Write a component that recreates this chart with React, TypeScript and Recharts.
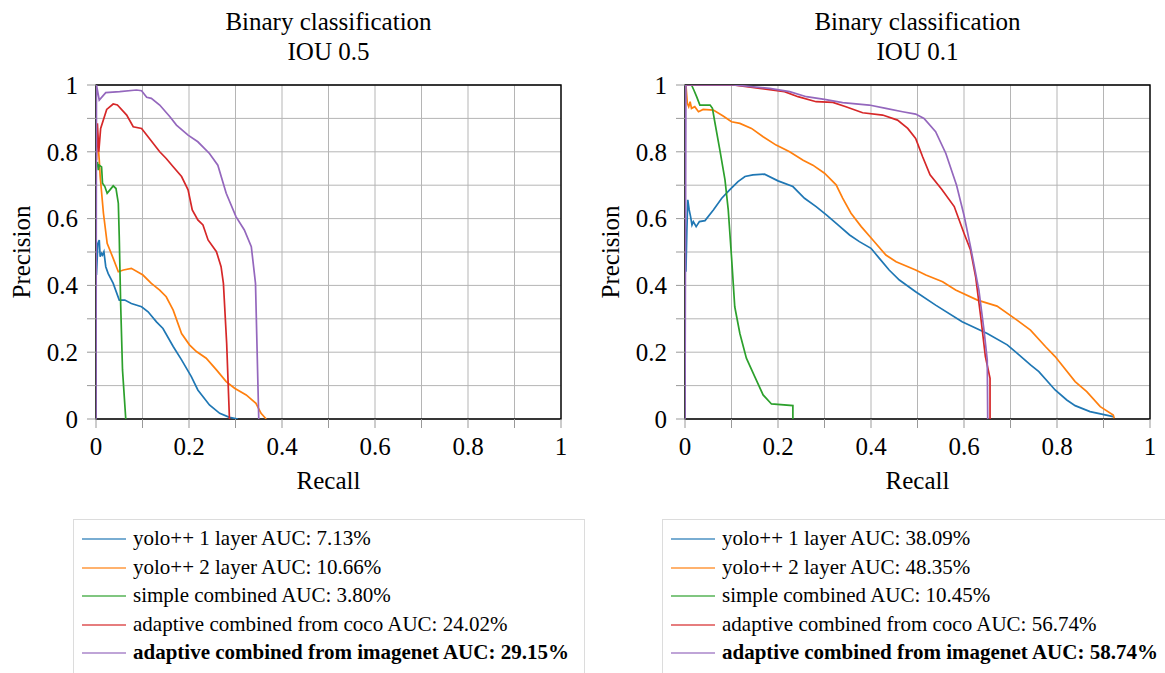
import React from "react";
import { LineChart, Line, XAxis, YAxis, CartesianGrid, ReferenceArea } from "recharts";

// tab10 colours, one per model
const COLORS = ["#1f77b4", "#ff7f0e", "#2ca02c", "#d62728", "#9467bd"];
const AXIS_TICKS = [0, 0.1, 0.2, 0.3, 0.4, 0.5, 0.6, 0.7, 0.8, 0.9, 1];
const FONT = "'Liberation Serif', serif";

// ---- IOU 0.5 : [recall, precision] ----
const yolo1Iou05 = [
  [0.001, 0.431], [0.004, 0.526], [0.007, 0.536], [0.009, 0.486], [0.012, 0.496], [0.014, 0.491],
  [0.017, 0.501], [0.021, 0.456], [0.026, 0.436], [0.037, 0.406], [0.05, 0.356], [0.062, 0.356],
  [0.076, 0.346], [0.098, 0.336], [0.112, 0.321], [0.13, 0.291], [0.144, 0.271], [0.166, 0.217],
  [0.184, 0.177], [0.205, 0.127], [0.219, 0.087], [0.244, 0.042], [0.266, 0.017], [0.287, 0.005],
  [0.305, 0],
];
const yolo2Iou05 = [
  [0.001, 0.885], [0.007, 0.775], [0.009, 0.726], [0.016, 0.616], [0.024, 0.526], [0.037, 0.481],
  [0.048, 0.441], [0.059, 0.446], [0.076, 0.451], [0.101, 0.431], [0.119, 0.406], [0.137, 0.386],
  [0.151, 0.366], [0.166, 0.326], [0.184, 0.256], [0.201, 0.222], [0.216, 0.202], [0.237, 0.182],
  [0.259, 0.147], [0.28, 0.112], [0.298, 0.092], [0.323, 0.072], [0.344, 0.047], [0.355, 0.017],
  [0.366, 0],
];
const simpleIou05 = [
  [0.003, 0.77], [0.005, 0.745], [0.007, 0.76], [0.012, 0.755], [0.014, 0.706], [0.019, 0.696],
  [0.024, 0.676], [0.03, 0.686], [0.037, 0.698], [0.043, 0.69], [0.048, 0.646], [0.05, 0.546],
  [0.053, 0.346], [0.057, 0.147], [0.064, 0],
];
const cocoIou05 = [
  [0.001, 0.775], [0.003, 0.885], [0.006, 0.8], [0.01, 0.87], [0.023, 0.927], [0.037, 0.943],
  [0.046, 0.94], [0.066, 0.91], [0.08, 0.875], [0.098, 0.87], [0.109, 0.85], [0.137, 0.8],
  [0.151, 0.78], [0.166, 0.755], [0.184, 0.726], [0.198, 0.686], [0.207, 0.626], [0.219, 0.596],
  [0.23, 0.581], [0.241, 0.536], [0.259, 0.501], [0.269, 0.456], [0.274, 0.406], [0.281, 0.227],
  [0.287, 0],
];
const imagenetIou05 = [
  [0, 0], [0.001, 1.0], [0.007, 0.955], [0.021, 0.977], [0.051, 0.98], [0.087, 0.985],
  [0.098, 0.983], [0.109, 0.963], [0.119, 0.96], [0.137, 0.94], [0.159, 0.905], [0.173, 0.88],
  [0.198, 0.85], [0.219, 0.83], [0.244, 0.795], [0.262, 0.76], [0.28, 0.676], [0.301, 0.606],
  [0.319, 0.566], [0.334, 0.516], [0.343, 0.406], [0.35, 0],
];
const labelsIou05 = [
  "yolo++ 1 layer AUC: 7.13%",
  "yolo++ 2 layer AUC: 10.66%",
  "simple combined AUC: 3.80%",
  "adaptive combined from coco AUC: 24.02%",
  "adaptive combined from imagenet AUC: 29.15%",
];

// ---- IOU 0.1 : [recall, precision] ----
const yolo1Iou01 = [
  [0.002, 0.441], [0.004, 0.566], [0.006, 0.656], [0.009, 0.626], [0.012, 0.606], [0.015, 0.581],
  [0.018, 0.591], [0.024, 0.576], [0.031, 0.591], [0.043, 0.594], [0.061, 0.626], [0.079, 0.661],
  [0.096, 0.686], [0.114, 0.711], [0.129, 0.726], [0.146, 0.731], [0.171, 0.733], [0.2, 0.713],
  [0.232, 0.696], [0.257, 0.661], [0.282, 0.636], [0.304, 0.611], [0.329, 0.581], [0.354, 0.551],
  [0.375, 0.531], [0.4, 0.511], [0.418, 0.481], [0.439, 0.446], [0.461, 0.416], [0.496, 0.381],
  [0.539, 0.341], [0.596, 0.291], [0.65, 0.256], [0.693, 0.222], [0.714, 0.197], [0.743, 0.162],
  [0.761, 0.142], [0.796, 0.087], [0.821, 0.057], [0.839, 0.04], [0.871, 0.022], [0.921, 0.007],
];
const yolo2Iou01 = [
  [0.002, 1.0], [0.005, 0.945], [0.008, 0.935], [0.011, 0.95], [0.014, 0.93], [0.021, 0.935],
  [0.029, 0.92], [0.039, 0.927], [0.061, 0.925], [0.082, 0.907], [0.1, 0.89], [0.118, 0.885],
  [0.143, 0.87], [0.168, 0.845], [0.196, 0.82], [0.225, 0.8], [0.254, 0.775], [0.275, 0.76],
  [0.3, 0.736], [0.325, 0.701], [0.339, 0.661], [0.357, 0.616], [0.379, 0.576], [0.404, 0.536],
  [0.432, 0.491], [0.454, 0.471], [0.496, 0.446], [0.518, 0.431], [0.554, 0.411], [0.582, 0.386],
  [0.629, 0.356], [0.671, 0.338], [0.714, 0.296], [0.743, 0.266], [0.775, 0.217], [0.796, 0.187],
  [0.839, 0.112], [0.864, 0.082], [0.893, 0.037], [0.921, 0.012], [0.923, 0.002],
];
const simpleIou01 = [
  [0.014, 1.0], [0.019, 0.985], [0.025, 0.965], [0.032, 0.94], [0.054, 0.94], [0.059, 0.93],
  [0.064, 0.89], [0.075, 0.805], [0.086, 0.716], [0.093, 0.626], [0.1, 0.486], [0.107, 0.336],
  [0.118, 0.256], [0.132, 0.182], [0.15, 0.127], [0.168, 0.072], [0.186, 0.045], [0.232, 0.04],
  [0.232, 0],
];
const cocoIou01 = [
  [0, 1.0], [0.104, 1.0], [0.161, 0.99], [0.214, 0.98], [0.243, 0.965], [0.282, 0.95],
  [0.318, 0.948], [0.346, 0.935], [0.382, 0.917], [0.425, 0.91], [0.457, 0.895], [0.479, 0.87],
  [0.496, 0.84], [0.511, 0.785], [0.527, 0.731], [0.552, 0.688], [0.579, 0.636], [0.6, 0.556],
  [0.614, 0.506], [0.625, 0.426], [0.636, 0.306], [0.646, 0.187], [0.656, 0.122], [0.656, 0],
];
const imagenetIou01 = [
  [0, 0], [0.002, 1.0], [0.104, 1.0], [0.182, 0.99], [0.225, 0.98], [0.261, 0.965],
  [0.3, 0.957], [0.339, 0.947], [0.396, 0.94], [0.432, 0.93], [0.468, 0.92], [0.496, 0.913],
  [0.514, 0.9], [0.539, 0.86], [0.561, 0.795], [0.584, 0.7], [0.6, 0.61], [0.614, 0.516],
  [0.632, 0.386], [0.643, 0.266], [0.65, 0.177], [0.651, 0],
];
const labelsIou01 = [
  "yolo++ 1 layer AUC: 38.09%",
  "yolo++ 2 layer AUC: 48.35%",
  "simple combined AUC: 10.45%",
  "adaptive combined from coco AUC: 56.74%",
  "adaptive combined from imagenet AUC: 58.74%",
];

const toPoints = (pairs: number[][]) => pairs.map(([recall, precision]) => ({ recall, precision }));

const tickFmt = (v: number) => {
  const t = Math.round(v * 10);
  return t % 2 === 0 ? String(t / 10) : "";
};

const tickStyle = { fill: "#000", fontSize: 25, fontFamily: FONT };

interface PanelProps {
  left: number;
  subtitle: string;
  series: number[][][];
  labels: string[];
}

const PRPanel = ({ left, subtitle, series, labels }: PanelProps) => (
  <div style={{ position: "absolute", left, top: 0, width: 580, height: 673, fontFamily: FONT }}>
    <div style={{ position: "absolute", left: 95, width: 465, top: 9, textAlign: "center", fontSize: 25, lineHeight: "25px" }}>
      Binary classification
    </div>
    <div style={{ position: "absolute", left: 95, width: 465, top: 39, textAlign: "center", fontSize: 25, lineHeight: "25px" }}>
      {subtitle}
    </div>

    <LineChart width={580} height={480} margin={{ top: 85, right: 20, bottom: 31, left: 0 }}>
      <CartesianGrid stroke="#b5b5b5" strokeWidth={1} />
      <XAxis
        type="number"
        dataKey="recall"
        domain={[0, 1]}
        ticks={AXIS_TICKS}
        interval={0}
        tickFormatter={tickFmt}
        height={30}
        tickSize={9}
        tickMargin={9}
        axisLine={false}
        tickLine={{ stroke: "#999" }}
        tick={tickStyle}
        allowDataOverflow
      />
      <YAxis
        type="number"
        dataKey="precision"
        domain={[0, 1]}
        ticks={AXIS_TICKS}
        interval={0}
        tickFormatter={tickFmt}
        width={95}
        tickSize={9}
        tickMargin={9}
        axisLine={false}
        tickLine={{ stroke: "#999" }}
        tick={tickStyle}
        allowDataOverflow
      />
      <ReferenceArea x1={0} x2={1} y1={0} y2={1} fill="none" stroke="#000" strokeWidth={1.4} />
      {series.map((s, i) => (
        <Line
          key={i}
          data={toPoints(s)}
          dataKey="precision"
          type="linear"
          stroke={COLORS[i]}
          strokeWidth={1.7}
          dot={false}
          activeDot={false}
          isAnimationActive={false}
        />
      ))}
    </LineChart>

    <div style={{ position: "absolute", left: 95, width: 465, top: 468, textAlign: "center", fontSize: 25, lineHeight: "25px" }}>
      Recall
    </div>
    <div
      style={{
        position: "absolute",
        left: 20,
        top: 252,
        fontSize: 25,
        lineHeight: "25px",
        whiteSpace: "nowrap",
        transform: "translate(-50%, -50%) rotate(-90deg)",
      }}
    >
      Precision
    </div>

    <div
      style={{
        position: "absolute",
        left: 72,
        top: 519,
        width: 510,
        height: 180,
        border: "1.5px solid #dcdcdc",
        background: "#fff",
      }}
    >
      {labels.map((lab, i) => (
        <div key={lab} style={{ position: "absolute", left: 0, top: 4 + i * 28.5, height: 28.5, width: 600 }}>
          <div
            style={{
              position: "absolute",
              left: 8,
              top: 14,
              width: 44,
              height: 2,
              background: COLORS[i],
              opacity: 0.6,
            }}
          />
          <div
            style={{
              position: "absolute",
              left: 59,
              top: 0,
              fontSize: 21,
              lineHeight: "28.5px",
              whiteSpace: "nowrap",
              fontWeight: i === 4 ? "bold" : "normal",
            }}
          >
            {lab}
          </div>
        </div>
      ))}
    </div>
  </div>
);

export default function App() {
  return (
    <div style={{ position: "absolute", left: 0, top: 0, width: 1165, height: 673, overflow: "hidden", background: "#fff" }}>
      <PRPanel
        left={1}
        subtitle="IOU 0.5"
        series={[yolo1Iou05, yolo2Iou05, simpleIou05, cocoIou05, imagenetIou05]}
        labels={labelsIou05}
      />
      <PRPanel
        left={590}
        subtitle="IOU 0.1"
        series={[yolo1Iou01, yolo2Iou01, simpleIou01, cocoIou01, imagenetIou01]}
        labels={labelsIou01}
      />
    </div>
  );
}
